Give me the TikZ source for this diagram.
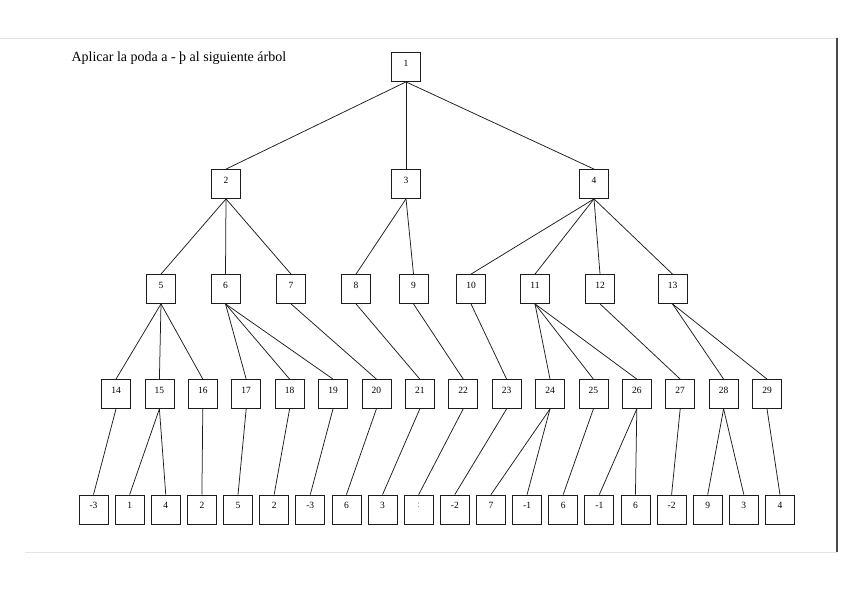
\documentclass[tikz,border=0pt]{standalone}
\usepackage{fontspec}
\setmainfont{Liberation Serif}
\usepackage{tikz}
\usetikzlibrary{positioning}
\definecolor{Ink}{HTML}{1C1C1C}
\definecolor{Scan}{HTML}{E4E4E4}

\begin{document}
\begin{tikzpicture}[x=1pt, y=-1pt, font=\fontsize{9.5}{10}\selectfont]
\tikzset{box/.style={draw=Ink, line width=0.8pt, minimum size=29pt, inner sep=0pt, text depth=8pt, fill=white}, leafbox/.style={box}, edge/.style={draw=Ink, line width=0.75pt}}
\useasboundingbox (0,0) rectangle (848,606);
% page edges of the scan
\draw[Scan, line width=0.6pt] (0,38) -- (837,38);
\draw[Scan, line width=0.6pt] (25,552) -- (837,552);
\draw[Ink!80, line width=1.2pt] (837,38) -- (837,552);
\node[anchor=base west, font=\fontsize{14}{15}\selectfont] (title) at (68,61) {Aplicar la poda a - þ al siguiente árbol};
% levels
\node[box] (n1) at (406,67) {1};
\node[box] (n2) at (226,184) {2};
\node[box] (n3) at (406,184) {3};
\node[box] (n4) at (594,184) {4};
\foreach \i/\x in {5/161,6/225.5,7/291,8/356,9/413.5,10/471,11/535,12/600,13/672.5} \node[box] (n\i) at (\x,289) {\i};
\foreach \i in {14,...,29} \node[box] (n\i) at ({116+(\i-14)*43.4},394) {\i};
\foreach \v [count=\k] in {-3,1,4,2,5,2,-3,6,3,{\textcolor{gray}{:}},-2,7,-1,6,-1,6,-2,9,3,4} \node[leafbox] (l\k) at ({93.5+(\k-1)*36.13},509.5) {\v};
% branches
\foreach \a/\b in {n1/n2,n1/n3,n1/n4,n2/n5,n2/n6,n2/n7,n3/n8,n3/n9,n4/n10,n4/n11,n4/n12,n4/n13,n5/n14,n5/n15,n5/n16,n6/n17,n6/n18,n6/n19,n7/n20,n8/n21,n9/n22,n10/n23,n11/n24,n11/n25,n11/n26,n12/n27,n13/n28,n13/n29} \draw[edge] (\a.south) -- (\b.north);
\foreach \a/\b in {n14/l1,n15/l2,n15/l3,n16/l4,n17/l5,n18/l6,n19/l7,n20/l8,n21/l9,n22/l10,n23/l11,n24/l12,n24/l13,n25/l14,n26/l15,n26/l16,n27/l17,n28/l18,n28/l19,n29/l20} \draw[edge] (\a.south) -- (\b.north);
\end{tikzpicture}
\end{document}
